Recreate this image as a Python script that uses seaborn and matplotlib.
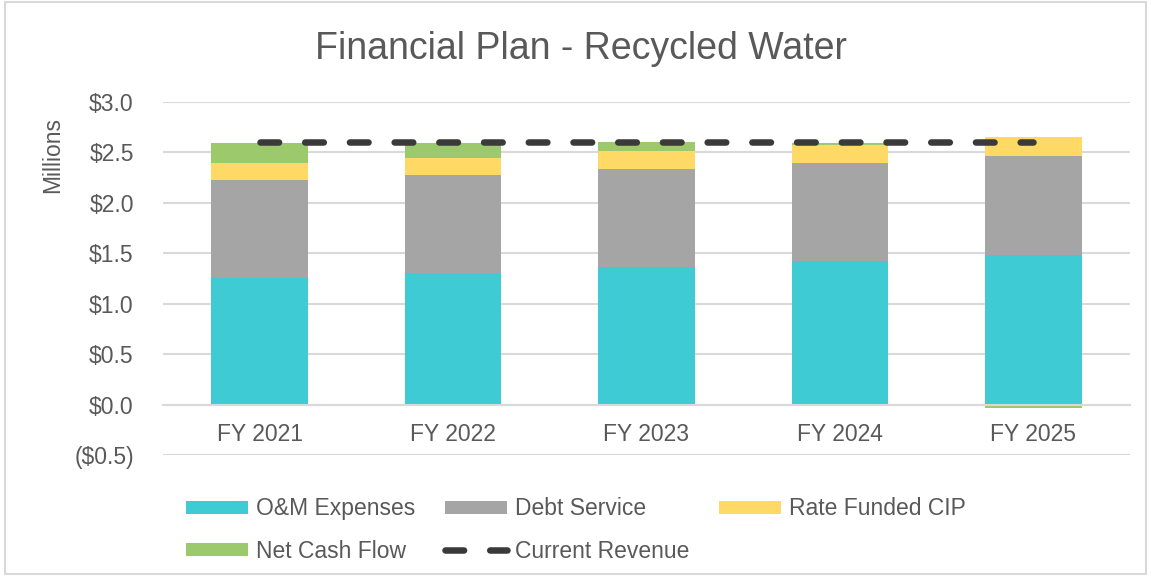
import matplotlib
matplotlib.use("Agg")
import matplotlib.pyplot as plt
import numpy as np
import seaborn as sns
from matplotlib.patches import Rectangle
from matplotlib.ticker import FuncFormatter

years = ["FY 2021", "FY 2022", "FY 2023", "FY 2024", "FY 2025"]
om_expenses = [1.26, 1.30, 1.36, 1.42, 1.48]
debt_service = [0.97, 0.98, 0.975, 0.975, 0.98]
rate_funded_cip = [0.165, 0.165, 0.175, 0.18, 0.19]
net_cash_flow = [0.20, 0.15, 0.09, 0.02, -0.03]
current_revenue = [2.60, 2.60, 2.60, 2.60, 2.60]

colors = {"om": "#3ECBD4", "debt": "#A5A5A5", "cip": "#FFD966",
          "net": "#9CC96B", "rev": "#3A3A3A"}
text_color = "#595959"

sns.set_style("white")
plt.rcParams["font.family"] = ["Liberation Sans", "DejaVu Sans"]

fig = plt.figure(figsize=(11.51, 5.77), dpi=100)
ax = fig.add_axes([0.1416, 0.2109, 0.8401, 0.6127])

# stacked bars; negative net cash flow stacks down from zero like Excel does
om = np.array(om_expenses)
debt = np.array(debt_service)
cip = np.array(rate_funded_cip)
net = np.array(net_cash_flow)
net_bottom = np.where(net >= 0, om + debt + cip, 0)

layers = [
    (om, np.zeros(5), colors["om"], "O&M Expenses"),
    (debt, om, colors["debt"], "Debt Service"),
    (cip, om + debt, colors["cip"], "Rate Funded CIP"),
    (net, net_bottom, colors["net"], "Net Cash Flow"),
]
for vals, bottom, col, label in layers:
    sns.barplot(x=years, y=vals, bottom=bottom, color=col, saturation=1,
                width=0.5, errorbar=None, label=label, ax=ax, linewidth=0)

sns.lineplot(x=years, y=current_revenue, color=colors["rev"], lw=4.7,
             label="Current Revenue", ax=ax, dashes=False)
rev_line = ax.lines[-1]
rev_line.set_dashes([2.85, 4.0])
rev_line.set_dash_capstyle("round")

ax.set_ylim(-0.5, 3.0)
ax.set_xlim(-0.5, 4.5)
ax.set_yticks(np.arange(-0.5, 3.01, 0.5))
ax.yaxis.set_major_formatter(FuncFormatter(
    lambda v, p: f"(${abs(v):.1f})" if v < 0 else f"${v:.1f}"))
ax.grid(axis="y", color="#D9D9D9", lw=1.5)
ax.set_axisbelow(True)
for s in ["top", "right", "left"]:
    ax.spines[s].set_visible(False)
ax.spines["bottom"].set_position(("data", 0))
ax.spines["bottom"].set_color("#D9D9D9")
ax.spines["bottom"].set_linewidth(1.5)
ax.tick_params(axis="both", length=0, labelsize=16.5, labelcolor=text_color)
ax.tick_params(axis="y", pad=21)
ax.tick_params(axis="x", pad=13)
ax.set_xlabel("")

ax.set_ylabel("Millions", fontsize=16.5, color=text_color)
ax.yaxis.set_label_coords(-0.102, 0.85)

fig.text(0.505, 0.915, "Financial Plan - Recycled Water", ha="center",
         va="center", fontsize=27, color=text_color)

handles, labels = ax.get_legend_handles_labels()
by_label = dict(zip(labels, handles))
if ax.legend_:
    ax.legend_.remove()
# row-major order as in the reference (matplotlib fills legend columns first)
order = ["O&M Expenses", "Net Cash Flow", "Debt Service", "Current Revenue",
         "Rate Funded CIP"]
fig.legend([by_label[k] for k in order], order,
           ncol=3, loc="upper left", bbox_to_anchor=(0.162, 0.138),
           frameon=False, fontsize=16.5, labelcolor=text_color,
           handlelength=2.7, handleheight=0.52, handletextpad=0.35,
           columnspacing=1.3, labelspacing=0.85, borderpad=0, borderaxespad=0)

fig.add_artist(Rectangle((0.004, 0.006), 0.992, 0.99, transform=fig.transFigure,
                         fill=False, ec="#D9D9D9", lw=1.5))

fig.savefig("out.png", dpi=100)
